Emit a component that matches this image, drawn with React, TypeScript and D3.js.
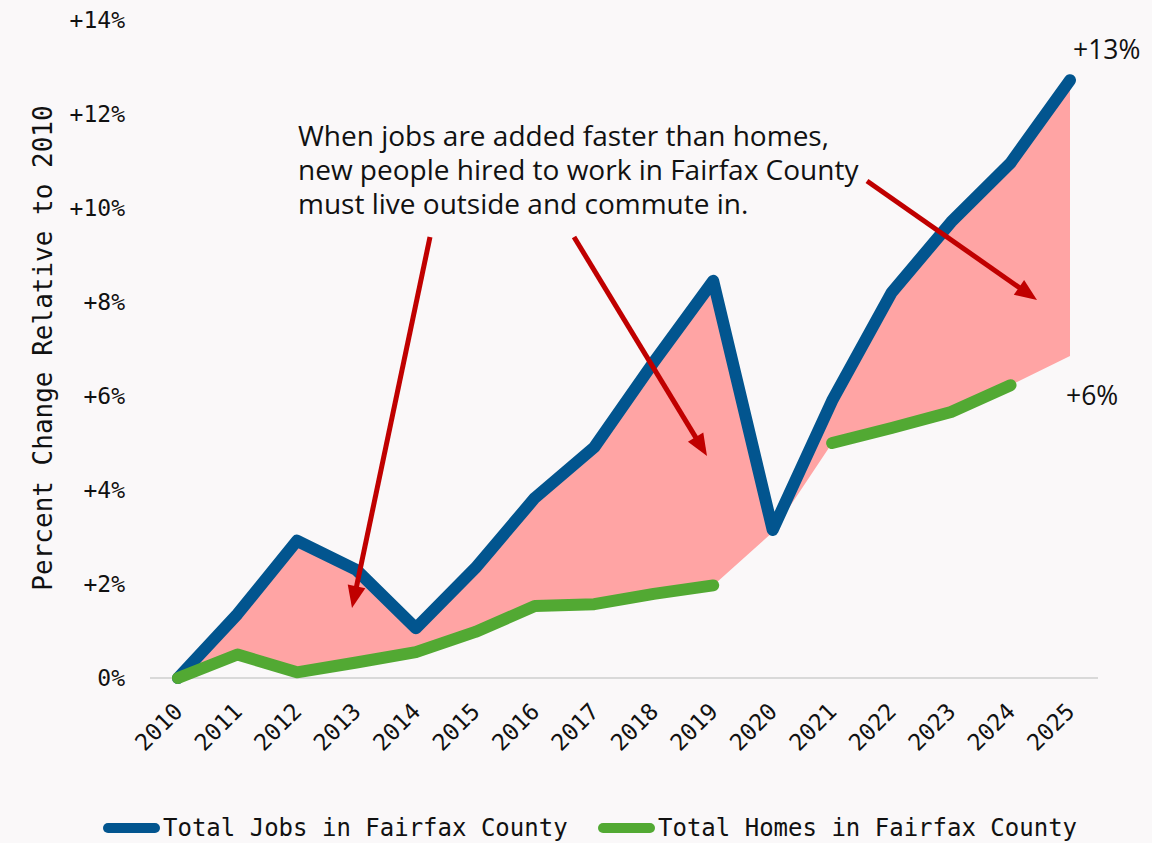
import React, { useEffect } from "react";
import * as d3 from "d3";

const years = [2010, 2011, 2012, 2013, 2014, 2015, 2016, 2017, 2018, 2019, 2020, 2021, 2022, 2023, 2024, 2025];
const jobs = [0, 1.36, 2.92, 2.3, 1.06, 2.34, 3.83, 4.91, 6.72, 8.45, 3.15, 5.9, 8.2, 9.7, 10.96, 12.72];
const homes: (number | null)[] = [0, 0.5, 0.12, 0.33, 0.55, 0.98, 1.53, 1.57, 1.79, 1.97, null, 5.0, 5.32, 5.66, 6.23, null];
// lower edge of the shaded gap, as drawn in the picture
const gapFloor = [0, 0.5, 0.12, 0.33, 0.55, 0.98, 1.53, 1.57, 1.79, 1.97, 3.1, 5.0, 5.32, 5.66, 6.23, 6.85];
const yTicks = [0, 2, 4, 6, 8, 10, 12, 14];
const noteLines = [
  "When jobs are added faster than homes,",
  "new people hired to work in Fairfax County",
  "must live outside and commute in.",
];
const arrows = [
  { from: [430, 237], to: [352, 608] },
  { from: [574, 237], to: [707, 456] },
  { from: [867, 181], to: [1037, 300] },
];
const endLabels = [
  { text: "+13%", value: 13.36, x: 1073 },
  { text: "+6%", value: 6.0, x: 1066 },
];
const legendItems = [
  { label: "Total Jobs in Fairfax County", color: "#02558f", x: 103 },
  { label: "Total Homes in Fairfax County", color: "#52a933", x: 598 },
];

const W = 1152;
const H = 843;
const BLUE = "#02558f";
const GREEN = "#52a933";
const PINK = "#ffa4a4";
const RED = "#c00000";
const MONO = "'DejaVu Sans Mono', 'Liberation Mono', monospace";
const SANS = "'Open Sans', 'Noto Sans', sans-serif";

export default function App() {
  useEffect(() => {
    document.body.style.margin = "0";
  }, []);

  const x = d3.scaleLinear().domain([2010, 2025]).range([178, 1070]);
  const y = d3.scaleLinear().domain([0, 14]).range([678, 20]);

  const idx = years.map((_, i) => i);
  const area = d3
    .area<number>()
    .x((i) => x(years[i]))
    .y0((i) => y(gapFloor[i]))
    .y1((i) => y(jobs[i]));
  const jobsLine = d3
    .line<number>()
    .x((i) => x(years[i]))
    .y((i) => y(jobs[i]));
  const homesLine = d3
    .line<number>()
    .defined((i) => homes[i] != null)
    .x((i) => x(years[i]))
    .y((i) => y(homes[i] as number));

  const arrowShapes = arrows.map((a, k) => {
    const [x1, y1] = a.from;
    const [x2, y2] = a.to;
    const ang = Math.atan2(y2 - y1, x2 - x1);
    const len = 22;
    const half = 9;
    const bx = x2 - len * Math.cos(ang);
    const by = y2 - len * Math.sin(ang);
    const px = -Math.sin(ang);
    const py = Math.cos(ang);
    const pts = [
      [x2, y2],
      [bx + px * half, by + py * half],
      [bx - px * half, by - py * half],
    ];
    return (
      <g key={k}>
        <line x1={x1} y1={y1} x2={bx + 2 * Math.cos(ang)} y2={by + 2 * Math.sin(ang)} stroke={RED} strokeWidth={5} />
        <polygon points={pts.map((p) => p.join(",")).join(" ")} fill={RED} />
      </g>
    );
  });

  return (
    <svg width={W} height={H} style={{ display: "block" }}>
      <rect x={0} y={0} width={W} height={H} fill="#faf8f9" />
      <line x1={150} x2={1098} y1={y(0)} y2={y(0)} stroke="#d9d9d9" strokeWidth={2} />
      <path d={area(idx) || ""} fill={PINK} />
      <path d={jobsLine(idx) || ""} fill="none" stroke={BLUE} strokeWidth={12} strokeLinecap="round" strokeLinejoin="round" />
      <path d={homesLine(idx) || ""} fill="none" stroke={GREEN} strokeWidth={12} strokeLinecap="round" strokeLinejoin="round" />

      {yTicks.map((t) => (
        <text key={t} x={125} y={y(t)} dy="0.35em" textAnchor="end" fontFamily={MONO} fontSize={23} fill="#111">
          {t === 0 ? "0%" : `+${t}%`}
        </text>
      ))}
      {years.map((yr) => (
        <text
          key={yr}
          transform={`translate(${x(yr) + 6},${713}) rotate(-45)`}
          textAnchor="end"
          fontFamily={MONO}
          fontSize={23}
          fill="#111"
        >
          {yr}
        </text>
      ))}
      <text
        transform={`translate(52,${348}) rotate(-90)`}
        textAnchor="middle"
        fontFamily={MONO}
        fontSize={26}
        fill="#111"
      >
        Percent Change Relative to 2010
      </text>

      <text x={298} y={146} fontFamily={SANS} fontSize={28} fill="#111">
        {noteLines.map((l, i) => (
          <tspan key={i} x={298} dy={i === 0 ? 0 : 34}>
            {l}
          </tspan>
        ))}
      </text>
      {arrowShapes}

      {endLabels.map((e) => (
        <text key={e.text} x={e.x} y={y(e.value)} dy="0.35em" fontFamily={SANS} fontSize={26.5} fill="#111">
          {e.text}
        </text>
      ))}

      {legendItems.map((it) => (
        <g key={it.label}>
          <line x1={it.x + 5} x2={it.x + 52} y1={828} y2={828} stroke={it.color} strokeWidth={10} strokeLinecap="round" />
          <text x={it.x + 60} y={828} dy="0.35em" fontFamily={MONO} fontSize={24} fill="#111">
            {it.label}
          </text>
        </g>
      ))}
    </svg>
  );
}
